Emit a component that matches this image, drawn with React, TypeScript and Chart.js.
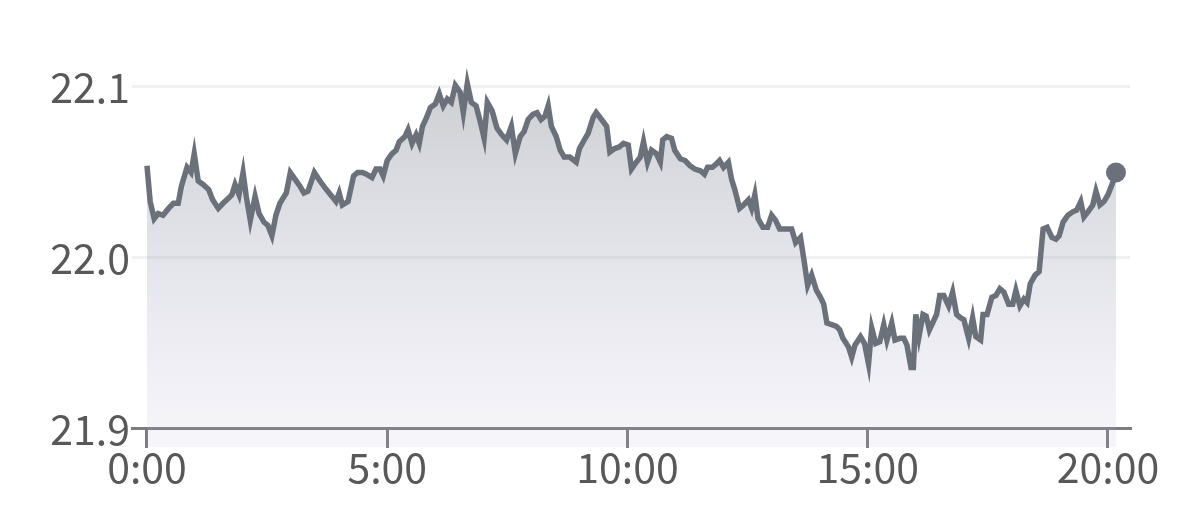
import { useEffect, useRef } from "react";
import { Chart, registerables } from "chart.js";

Chart.register(...registerables);

// time of day in minutes since 0:00
const minutes = [
  0, 4, 9, 14, 20, 27, 33, 39, 43, 50, 55, 59, 64, 70, 77, 82, 89, 95, 102, 106, 110, 115, 120, 124, 129, 135, 140, 146, 151, 156, 161, 166, 174, 179, 185, 191,
  196, 201, 209, 216, 224, 231, 236, 240, 244, 251, 258, 263, 269, 274, 281, 286, 291, 295, 300, 306, 311, 315, 322, 326, 331, 336, 340, 344, 349, 354, 360, 365, 370, 375, 380, 385, 391, 395, 400,
  405, 411, 416, 421, 425, 431, 437, 443, 449, 455, 460, 466, 471, 476, 482, 487, 492, 497, 501, 505, 511, 516, 521, 528, 536, 540, 546, 551, 557, 561, 566, 574, 578, 584, 590, 595,
  601, 605, 611, 616, 620, 625, 630, 636, 641, 644, 649, 655, 659, 666, 672, 678, 684, 691, 696, 700, 706, 711, 715, 720, 726, 730, 734, 740, 745, 751, 755, 759, 763, 769, 775, 780, 785, 790,
  797, 805, 810, 816, 820, 825, 830, 836, 841, 845, 849, 855, 861, 865, 869, 876, 880, 884, 891, 896, 901, 905, 910, 915, 920, 924, 930, 934, 940, 945, 949, 954, 957, 960, 964, 969, 973, 977, 982, 986, 990, 995,
  1001, 1006, 1011, 1016, 1020, 1026, 1031, 1035, 1041, 1044, 1049, 1055, 1060, 1065, 1070, 1076, 1081, 1085, 1090, 1095, 1099, 1103, 1109, 1114, 1119, 1124, 1130, 1135, 1139, 1144, 1150, 1156, 1161, 1166, 1170, 1175, 1181, 1185, 1190, 1195, 1200, 1205, 1210,
];

const prices = [
  22.054, 22.033, 22.023, 22.026, 22.025, 22.029, 22.032, 22.032, 22.042, 22.053, 22.05, 22.061, 22.045, 22.043, 22.04, 22.034, 22.029, 22.032, 22.035, 22.037, 22.043, 22.037, 22.05, 22.036, 22.022, 22.036, 22.026, 22.021, 22.019, 22.013, 22.025, 22.032, 22.038, 22.05, 22.046, 22.042,
  22.038, 22.039, 22.05, 22.045, 22.04, 22.036, 22.033, 22.038, 22.031, 22.033, 22.048, 22.05, 22.05, 22.049, 22.047, 22.052, 22.052, 22.048, 22.057, 22.061, 22.063, 22.068, 22.071, 22.075, 22.067, 22.072, 22.067, 22.077, 22.082, 22.088, 22.09, 22.096, 22.089, 22.093, 22.091, 22.101, 22.097, 22.085, 22.102,
  22.091, 22.089, 22.08, 22.07, 22.091, 22.086, 22.076, 22.072, 22.069, 22.077, 22.061, 22.071, 22.074, 22.081, 22.084, 22.085, 22.081, 22.083, 22.089, 22.077, 22.071, 22.063, 22.059, 22.059, 22.056, 22.064, 22.069, 22.073, 22.082, 22.085, 22.082, 22.077, 22.062, 22.064, 22.065, 22.067,
  22.066, 22.052, 22.056, 22.059, 22.068, 22.056, 22.063, 22.061, 22.056, 22.069, 22.071, 22.07, 22.063, 22.058, 22.057, 22.054, 22.052, 22.051, 22.049, 22.053, 22.053, 22.055, 22.057, 22.053, 22.056, 22.046, 22.04, 22.029, 22.031, 22.034, 22.029, 22.037, 22.023, 22.018, 22.018, 22.025, 22.022, 22.017,
  22.017, 22.017, 22.009, 22.012, 22.0, 21.984, 21.99, 21.981, 21.977, 21.973, 21.962, 21.961, 21.96, 21.958, 21.953, 21.948, 21.942, 21.949, 21.954, 21.95, 21.938, 21.959, 21.95, 21.951, 21.961, 21.952, 21.962, 21.952, 21.953, 21.953, 21.949, 21.936, 21.936, 21.967, 21.954, 21.967, 21.966, 21.958, 21.963, 21.967, 21.978, 21.978,
  21.972, 21.98, 21.967, 21.965, 21.964, 21.953, 21.965, 21.954, 21.952, 21.967, 21.967, 21.977, 21.978, 21.982, 21.98, 21.973, 21.973, 21.981, 21.972, 21.976, 21.974, 21.985, 21.99, 21.992, 22.017, 22.018, 22.012, 22.011, 22.013, 22.021, 22.025, 22.027, 22.028, 22.033, 22.024, 22.027, 22.031, 22.039, 22.031, 22.033, 22.037, 22.043, 22.05,
];

const yTickValues = [21.9, 22.0, 22.1];
const xTickMinutes = [0, 300, 600, 900, 1200];

const LINE = "#6b717b";
const AXIS = "#7b7c80";
const TEXT = "#585858";
const FONT = '"Noto Sans CJK JP", "Noto Sans", sans-serif';

export default function App() {
  const ref = useRef<HTMLCanvasElement>(null);

  useEffect(() => {
    const canvas = ref.current;
    if (!canvas) return;
    const points = minutes.map((m, i) => ({ x: m, y: prices[i] }));
    const last = points.length - 1;

    const chart = new Chart(canvas, {
      type: "line",
      data: {
        datasets: [
          {
            data: points,
            borderColor: LINE,
            borderWidth: 5.5,
            tension: 0,
            fill: "start",
            backgroundColor: (c: any) => {
              const ca = c.chart.chartArea;
              if (!ca) return "rgba(108,114,124,0.25)";
              const g = c.chart.ctx.createLinearGradient(0, ca.top + 50, 0, ca.bottom);
              g.addColorStop(0, "rgba(108,114,124,0.34)");
              g.addColorStop(1, "rgba(175,175,215,0.12)");
              return g;
            },
            pointRadius: (c: any) => (c.dataIndex === last ? 10 : 0),
            pointHoverRadius: (c: any) => (c.dataIndex === last ? 10 : 0),
            pointBackgroundColor: LINE,
            pointBorderWidth: 0,
          },
        ],
      },
      options: {
        animation: false,
        responsive: false,
        maintainAspectRatio: false,
        events: [],
        layout: { padding: { top: 36, right: 49, bottom: 83, left: 0 } },
        plugins: { legend: { display: false }, tooltip: { enabled: false } },
        scales: {
          x: {
            type: "linear",
            min: -18.7,
            max: 1227.5,
            position: { y: 21.9 } as any,
            afterBuildTicks: (s: any) => {
              s.ticks = xTickMinutes.map((v) => ({ value: v }));
            },
            ticks: {
              callback: (v: any) => `${Math.round(Number(v) / 60)}:00`,
              font: { family: FONT, size: 41, weight: 400 as any },
              color: TEXT,
              padding: -4,
              maxRotation: 0,
              autoSkip: false,
            },
            grid: {
              display: true,
              drawOnChartArea: false,
              drawTicks: true,
              tickLength: 18,
              color: AXIS,
              lineWidth: 3,
            },
            border: { display: true, color: AXIS, width: 3 },
          },
          y: {
            type: "linear",
            min: 21.88947,
            max: 22.12982,
            afterBuildTicks: (s: any) => {
              s.ticks = yTickValues.map((v) => ({ value: v }));
            },
            afterFit: (s: any) => {
              s.width = 132;
            },
            ticks: {
              callback: (v: any) => Number(v).toFixed(1),
              font: { family: FONT, size: 41, weight: 400 as any },
              color: TEXT,
              padding: 2,
            },
            grid: { color: "#f1f1f1", lineWidth: 3, drawTicks: false },
            border: { display: false },
          },
        },
      },
    });
    return () => chart.destroy();
  }, []);

  return (
    <div style={{ position: "fixed", left: 0, top: 0, width: 1179, height: 530, background: "#fff" }}>
      <canvas ref={ref} width={1179} height={530} style={{ display: "block", width: 1179, height: 530 }} />
    </div>
  );
}
